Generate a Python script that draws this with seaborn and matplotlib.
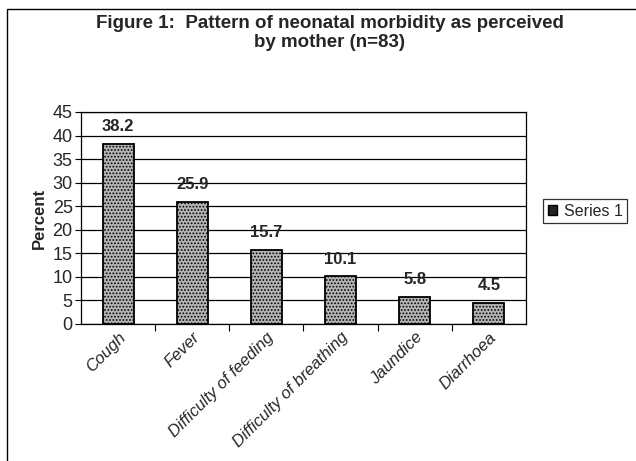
import matplotlib
matplotlib.use("Agg")
import matplotlib.pyplot as plt
import seaborn as sns
import pandas as pd
import numpy as np
from matplotlib.patches import Rectangle

categories = ["Cough", "Fever", "Difficulty of feeding", "Difficulty of breathing", "Jaundice", "Diarrhoea"]
values = [38.2, 25.9, 15.7, 10.1, 5.8, 4.5]
value_labels = ["38.2", "25.9", "15.7", "10.1", "5.8", "4.5"]
yticks = [0, 5, 10, 15, 20, 25, 30, 35, 40, 45]
series_name = "Series 1"
title = "Figure 1:  Pattern of neonatal morbidity as perceived\nby mother (n=83)"

sns.set_style("white")
plt.rcParams['font.family'] = ['Liberation Sans', 'DejaVu Sans']
plt.rcParams['hatch.color'] = '#555555'
plt.rcParams['hatch.linewidth'] = 0.8

df = pd.DataFrame({"cat": categories, "val": values})

fig = plt.figure(figsize=(6.36, 4.61), dpi=100)
ax = fig.add_axes([81/636, 1-324/461, (526-81)/636, (324-112)/461])

sns.barplot(data=df, x="cat", y="val", ax=ax, color="#b4b4b4", width=0.42,
            edgecolor="black", linewidth=1.3, saturation=1)
for p in ax.patches:
    p.set_hatch(".....")

ax.set_ylim(0, 45)
ax.set_xlim(-0.5, len(categories) - 0.5)
ax.set_yticks(yticks)
ax.set_yticklabels([str(t) for t in yticks], fontsize=13)
ax.yaxis.grid(True, color="black", linewidth=0.9)
ax.set_axisbelow(True)
ax.tick_params(axis="y", length=4, width=0.8, color="black", pad=2, left=True)

ax.set_xticks(range(len(categories)))
ax.set_xticklabels(categories, rotation=45, ha="right", rotation_mode="anchor",
                   fontsize=12, fontstyle="italic")
ax.tick_params(axis="x", length=0, pad=4)
ax.set_xticks(np.arange(0.5, len(categories) - 0.5, 1), minor=True)
ax.tick_params(axis="x", which="minor", length=5, width=0.8, color="black", bottom=True)

ax.set_xlabel("")
ax.set_ylabel("Percent", fontsize=12, fontweight="bold", labelpad=4)

for s in ax.spines.values():
    s.set_visible(True)
    s.set_color("black")
    s.set_linewidth(0.9)

for i, (v, lab) in enumerate(zip(values, value_labels)):
    ax.annotate(lab, (i, v), xytext=(0, 7), textcoords="offset points",
                ha="center", va="bottom", fontsize=12, fontweight="bold")

fig.text(330/636, 1-33/461, title, ha="center", va="center", fontsize=13.5,
         fontweight="bold", linespacing=1.15)

handle = Rectangle((0, 0), 1, 1, facecolor="#222222", edgecolor="black")
leg = fig.legend([handle], [series_name], loc="center left",
                 bbox_to_anchor=(535/636, 1-211/461), frameon=True, fontsize=11.5,
                 handlelength=0.6, handleheight=0.6, handletextpad=0.4,
                 borderpad=0.3, fancybox=False)
leg.get_frame().set_edgecolor("black")
leg.get_frame().set_linewidth(0.9)

border = Rectangle((7/636, -0.1), 1.2, 1 - 9/461 + 0.1, transform=fig.transFigure,
                   fill=False, edgecolor="black", linewidth=1.0)
fig.patches.append(border)

fig.savefig("out.png", dpi=100)
